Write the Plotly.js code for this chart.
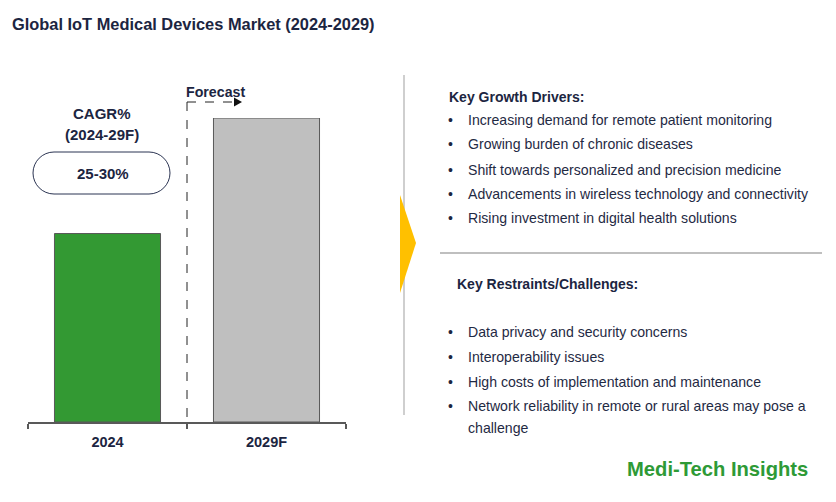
<!DOCTYPE html>
<html>
<head>
<meta charset="utf-8">
<script src="https://cdn.plot.ly/plotly-3.0.1.min.js"></script>
<style>html,body{margin:0;padding:0;background:#fff;}#chart{width:836px;height:502px;}</style>
</head>
<body>
<div id="chart"></div>
<script>
// ---- data ----
const categories = ["2024", "2029F"];
const marketValues = [62, 100];          // relative market size (illustrative)
const barColors = ["#339933", "#bfbfbf"];
const chartTitle = "Global IoT Medical Devices Market (2024-2029)";
const cagrLabel = ["CAGR%", "(2024-29F)"];
const cagrValue = "25-30%";
const forecastLabel = "Forecast";
const driversTitle = "Key Growth Drivers:";
const drivers = [
  "Increasing demand for remote patient monitoring",
  "Growing burden of chronic diseases",
  "Shift towards personalized and precision medicine",
  "Advancements in wireless technology and connectivity",
  "Rising investment in digital health solutions"
];
const restraintsTitle = "Key Restraints/Challenges:";
const restraints = [
  "Data privacy and security concerns",
  "Interoperability issues",
  "High costs of implementation and maintenance",
  "Network reliability in remote or rural areas may pose a",
  "challenge"
];
const brand = "Medi-Tech Insights";

// ---- layout helpers ----
const W = 836, H = 502;
const px = x => x / W;
const py = y => 1 - y / H;
const navy = "#1c2541";
const font = "Liberation Sans, Arial, sans-serif";

const annotations = [];
function txt(text, x, y, size, opts) {
  opts = opts || {};
  annotations.push({
    text: text, xref: "paper", yref: "paper", x: px(x), y: py(y),
    xanchor: opts.anchor || "left", yanchor: "middle", showarrow: false,
    font: {family: font, size: size, color: opts.color || navy}
  });
}

txt("<b>" + cagrLabel[0] + "</b>", 102, 113, 15, {anchor: "center"});
txt("<b>" + cagrLabel[1] + "</b>", 102, 134, 15, {anchor: "center"});
txt("<b>" + cagrValue + "</b>", 103, 173, 15, {anchor: "center"});
txt("<b>" + forecastLabel + "</b>", 184, 92, 14.2);

txt("<b>" + driversTitle + "</b>", 447, 97, 14);
const driverY = [120, 144, 170, 194, 218];
drivers.forEach((d, i) => {
  txt("•", 446, driverY[i], 14);
  txt(d, 466, driverY[i], 14.1, {color: "#1f2a44"});
});
txt("<b>" + restraintsTitle + "</b>", 455, 284, 14);
const restraintY = [332, 357, 382, 406, 428];
restraints.forEach((d, i) => {
  if (i < restraints.length - 1) txt("•", 446, restraintY[i], 14);
  txt(d, 466, restraintY[i], 14.1, {color: "#1f2a44"});
});
txt("<b>" + brand + "</b>", 625, 469, 20.2, {color: "#2e9a36"});

const shapes = [
  // vertical separator
  {type: "line", xref: "paper", yref: "paper", x0: px(404), x1: px(404), y0: py(75), y1: py(415),
   line: {color: "#bfbfbf", width: 1.5}},
  // yellow chevron
  {type: "path", xref: "paper", yref: "paper",
   path: `M ${px(400)} ${py(195)} L ${px(416)} ${py(243)} L ${px(400)} ${py(293)} Z`,
   fillcolor: "#ffc000", line: {width: 0}},
  // horizontal separator
  {type: "line", xref: "paper", yref: "paper", x0: px(440), x1: px(822), y0: py(253), y1: py(253),
   line: {color: "#bfbfbf", width: 2}},
  // CAGR pill
  {type: "path", xref: "paper", yref: "paper",
   path: (() => {
     const x0 = 33, x1 = 170, y0 = 152, y1 = 194, r = 21, k = 0.55;
     const P = (x, y) => `${px(x)},${py(y)}`;
     return `M ${P(x0 + r, y0)} L ${P(x1 - r, y0)} ` +
       `C ${P(x1 - r + r * k, y0)} ${P(x1, y0 + r - r * k)} ${P(x1, y0 + r)} ` +
       `C ${P(x1, y0 + r + r * k)} ${P(x1 - r + r * k, y1)} ${P(x1 - r, y1)} ` +
       `L ${P(x0 + r, y1)} ` +
       `C ${P(x0 + r - r * k, y1)} ${P(x0, y1 - r + r * k)} ${P(x0, y1 - r)} ` +
       `C ${P(x0, y0 + r - r * k)} ${P(x0 + r - r * k, y0)} ${P(x0 + r, y0)} Z`;
   })(),
   line: {color: "#2b3452", width: 1}, fillcolor: "rgba(0,0,0,0)"},
  // forecast dashed vertical
  {type: "line", xref: "paper", yref: "paper", x0: px(187), x1: px(187), y0: py(102), y1: py(422),
   line: {color: "#222", width: 1, dash: "dash"}},
  // forecast dashed horizontal
  {type: "line", xref: "paper", yref: "paper", x0: px(187), x1: px(234), y0: py(102), y1: py(102),
   line: {color: "#222", width: 1, dash: "dash"}},
  // arrow head
  {type: "path", xref: "paper", yref: "paper",
   path: `M ${px(234)} ${py(97.5)} L ${px(242)} ${py(102)} L ${px(234)} ${py(106.5)} Z`,
   fillcolor: "#111", line: {width: 0}}
];

const trace = {
  type: "bar", x: categories, y: marketValues,
  marker: {color: barColors, line: {color: "#595959", width: 1}},
  hoverinfo: "skip"
};

const layout = {
  width: W, height: H,
  margin: {l: 0, r: 0, t: 0, b: 0},
  paper_bgcolor: "#fff", plot_bgcolor: "#fff",
  showlegend: false,
  bargap: 0.333,
  title: {text: "<b>" + chartTitle + "</b>", x: px(12), xanchor: "left", y: py(24), yanchor: "middle",
          font: {family: font, size: 16.4, color: navy}},
  xaxis: {
    type: "category",
    domain: [px(28), px(346)], anchor: "y",
    showline: true, linecolor: "#595959", linewidth: 2,
    ticks: "outside", tickson: "boundaries", ticklen: 5, tickwidth: 2, tickcolor: "#595959",
    tickfont: {family: font, size: 14.5, color: navy, weight: "bold"},
    ticklabelstandoff: 6,
    showgrid: false, zeroline: false, fixedrange: true
  },
  yaxis: {
    domain: [py(422), py(118)], range: [0, 100],
    visible: false, showgrid: false, zeroline: false, fixedrange: true
  },
  shapes: shapes,
  annotations: annotations
};

Plotly.newPlot("chart", [trace], layout, {staticPlot: true, displayModeBar: false});
</script>
</body>
</html>
